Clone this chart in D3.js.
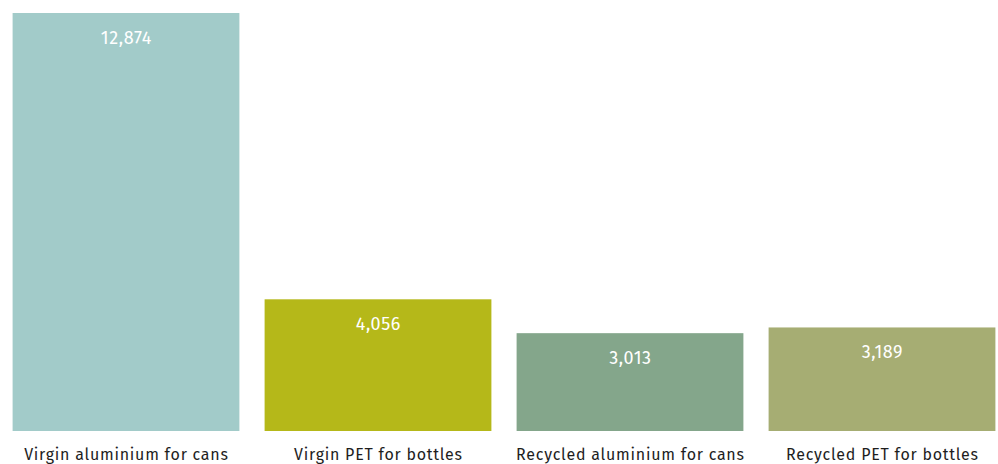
<!DOCTYPE html>
<html><head><meta charset="utf-8">
<script src="https://cdn.jsdelivr.net/npm/d3@7/dist/d3.min.js"></script>
<style>html,body{margin:0;padding:0;background:#fff;}svg{display:block;}</style>
</head><body>
<svg id="chart" width="998" height="464"></svg>
<script>
const categories = ["Virgin aluminium for cans", "Virgin PET for bottles", "Recycled aluminium for cans", "Recycled PET for bottles"];
const values = [12874, 4056, 3013, 3189];
const colors = ["#a2cbc9", "#b5b819", "#84a68b", "#a6ad73"];

const svg = d3.select("#chart");
const font = "'Fira Sans', 'Open Sans', 'Noto Sans', sans-serif";
const x = d3.scaleBand().domain(categories).range([0, 1008]).paddingInner(0.1).paddingOuter(0.05);
const y = d3.scaleLinear().domain([0, 12874]).range([431, 13]);
const fmt = d3.format(",");

const g = svg.append("g");
g.selectAll("rect").data(categories).join("rect")
  .attr("x", d => x(d)).attr("width", x.bandwidth())
  .attr("y", (d, i) => y(values[i])).attr("height", (d, i) => y(0) - y(values[i]))
  .attr("fill", (d, i) => colors[i]);

g.selectAll("text.val").data(categories).join("text").attr("class", "val")
  .attr("x", d => x(d) + x.bandwidth() / 2 + 0.4)
  .attr("y", (d, i) => y(values[i]) + 31)
  .attr("text-anchor", "middle")
  .attr("font-family", font).attr("font-size", 18).attr("font-weight", 400)
  .attr("letter-spacing", 0.6)
  .attr("fill", "#ffffff")
  .text((d, i) => fmt(values[i]));

g.selectAll("text.cat").data(categories).join("text").attr("class", "cat")
  .attr("x", d => x(d) + x.bandwidth() / 2 + 0.4)
  .attr("y", 460)
  .attr("text-anchor", "middle")
  .attr("font-family", font).attr("font-size", 16)
  .attr("letter-spacing", 0.75)
  .attr("fill", "#1e1e1e")
  .text(d => d);
</script>
</body></html>
